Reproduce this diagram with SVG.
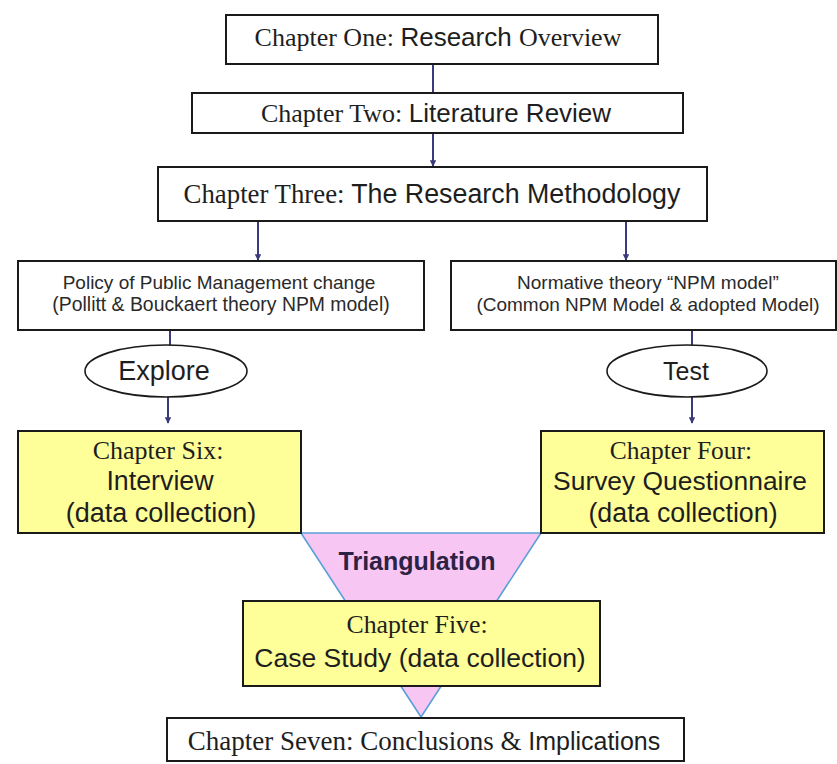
<svg xmlns="http://www.w3.org/2000/svg" width="837" height="764" viewBox="0 0 837 764">
<defs>
<style>
.box{fill:#ffffff;stroke:#1a1a1a;stroke-width:2}
.ybox{fill:#ffff99;stroke:#1a1a1a;stroke-width:2}
.ell{fill:#ffffff;stroke:#1a1a1a;stroke-width:1.6}
.con{stroke:#3a3a7c;stroke-width:2;fill:none}
.t{font-family:"Liberation Serif","Times New Roman",serif;fill:#1e1e1e}
.s{font-family:"Liberation Sans",Arial,sans-serif;fill:#1e1e1e}
.small{font-family:"Liberation Sans",Arial,sans-serif;fill:#2a2a2a;font-size:19px}
text{text-anchor:middle}
</style>
<marker id="arr" viewBox="0 0 10 10" refX="9" refY="5" markerWidth="3.2" markerHeight="3.2" orient="auto">
<path d="M0,0 L10,5 L0,10 z" fill="#3a3a7c"/>
</marker>
</defs>
<rect width="837" height="764" fill="#ffffff"/>

<g id="connectors">
<line class="con" x1="433" y1="64" x2="433" y2="92"/>
<line class="con" x1="433" y1="133" x2="433" y2="166" marker-end="url(#arr)"/>
<line class="con" x1="258" y1="221" x2="258" y2="260" marker-end="url(#arr)"/>
<line class="con" x1="626" y1="221" x2="626" y2="260" marker-end="url(#arr)"/>
<line class="con" x1="170" y1="330" x2="170" y2="345"/>
<line class="con" x1="168" y1="397" x2="168" y2="423" marker-end="url(#arr)"/>
<line class="con" x1="692" y1="330" x2="692" y2="346"/>
<line class="con" x1="692" y1="397" x2="692" y2="423" marker-end="url(#arr)"/>
</g>

<g id="triangulation">
<polygon points="301,533 541,533 421,717" fill="#f8c6f3" stroke="#5b9fd8" stroke-width="1.6"/>
<text x="417" y="570" style="font-family:'Liberation Sans',Arial,sans-serif;font-weight:bold;font-size:25px;fill:#2b2245">Triangulation</text>
</g>

<g id="ch1">
<rect class="box" x="226" y="15" width="432" height="49"/>
<text x="438" y="46" font-size="26"><tspan class="t">Chapter One: </tspan><tspan class="s">Research </tspan><tspan class="t">Overview</tspan></text>
</g>

<g id="ch2">
<rect class="box" x="192" y="93" width="491" height="40"/>
<text x="436" y="122" font-size="26"><tspan class="t">Chapter Two: </tspan><tspan class="s">Literature Review</tspan></text>
</g>

<g id="ch3">
<rect class="box" x="158" y="167" width="549" height="54"/>
<text x="432" y="203" font-size="26.8"><tspan class="t">Chapter Three: </tspan><tspan class="s">The Research Methodology</tspan></text>
</g>

<g id="policy">
<rect class="box" x="18" y="261" width="406" height="69"/>
<text class="small" x="219" y="289">Policy of Public Management change</text>
<text class="small" x="221" y="311" style="font-size:19.4px">(Pollitt &amp; Bouckaert theory NPM model)</text>
</g>

<g id="normative">
<rect class="box" x="451" y="261" width="385" height="69"/>
<text class="small" x="648" y="289">Normative theory “NPM model”</text>
<text class="small" x="648" y="311">(Common NPM Model &amp; adopted Model)</text>
</g>

<g id="explore">
<ellipse class="ell" cx="166" cy="371" rx="81" ry="26"/>
<text class="s" x="164" y="380" font-size="27">Explore</text>
</g>

<g id="test">
<ellipse class="ell" cx="687" cy="371" rx="80" ry="26"/>
<text class="s" x="686" y="380" font-size="25">Test</text>
</g>

<g id="ch6">
<rect class="ybox" x="18" y="431" width="283" height="102"/>
<text class="t" x="158" y="459" font-size="26">Chapter Six:</text>
<text class="s" x="160" y="490" font-size="26.8">Interview</text>
<text class="s" x="161" y="522" font-size="27">(data collection)</text>
</g>

<g id="ch4">
<rect class="ybox" x="541" y="431" width="283" height="102"/>
<text class="t" x="681" y="459" font-size="25.5">Chapter Four:</text>
<text class="s" x="680" y="490" font-size="26.4">Survey Questionnaire</text>
<text class="s" x="683" y="522" font-size="26.8">(data collection)</text>
</g>

<g id="ch5">
<rect class="ybox" x="243" y="601" width="357" height="85"/>
<text class="t" x="417" y="633" font-size="25.8">Chapter Five:</text>
<text class="s" x="420" y="667" font-size="26.5">Case Study (data collection)</text>
</g>

<g id="ch7">
<rect class="box" x="167" y="718" width="517" height="43"/>
<text x="424" y="750" font-size="27"><tspan class="t">Chapter Seven: Conclusions &amp; </tspan><tspan class="s" font-size="25">Implications</tspan></text>
</g>
</svg>
